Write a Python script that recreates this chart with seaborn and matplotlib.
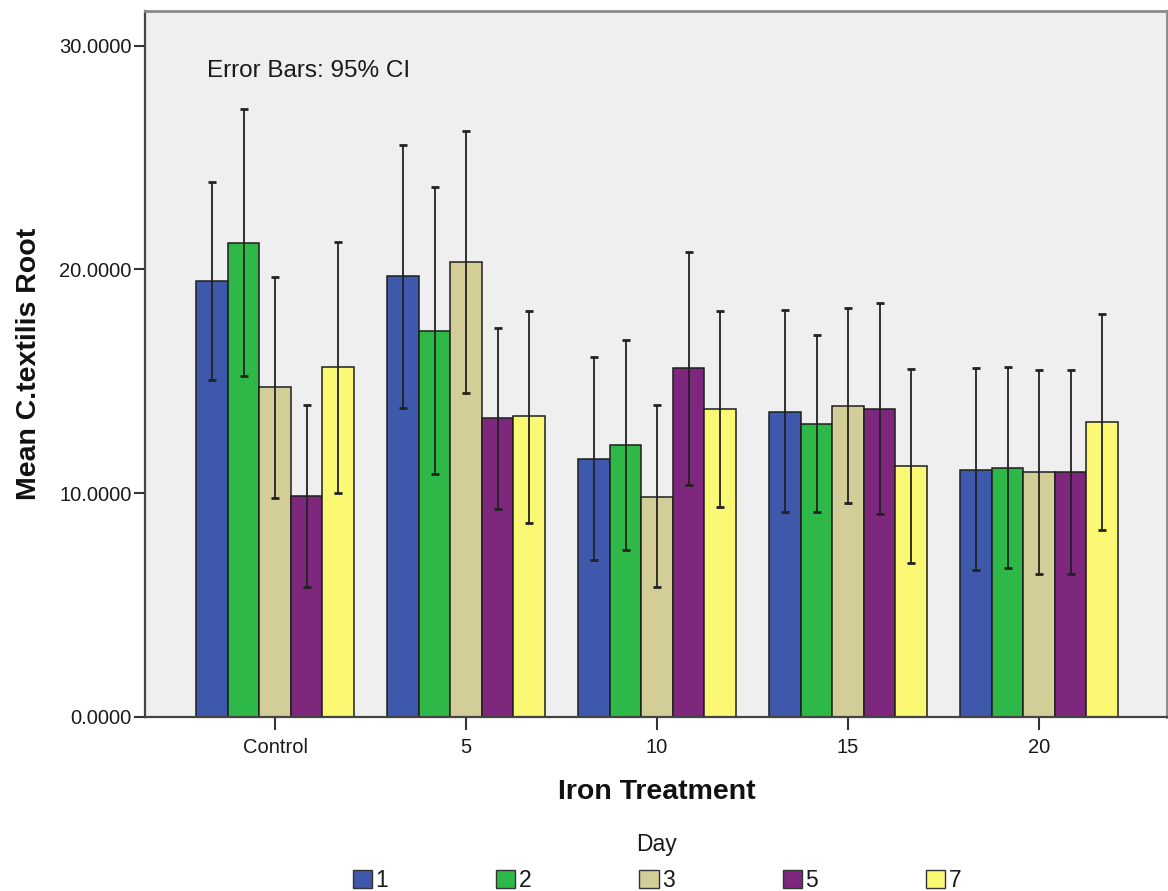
import numpy as np
import pandas as pd
import matplotlib
matplotlib.use("Agg")
import matplotlib.pyplot as plt
from matplotlib.patches import Patch
from matplotlib.container import BarContainer
import seaborn as sns

# Iron treatment levels (x categories) and sampling days (hue)
treatments = ["Control", "5", "10", "15", "20"]
days = ["1", "2", "3", "5", "7"]

# Mean C.textilis root per day, one value per treatment level
mean_root = [
    [19.48, 19.70, 11.54, 13.63, 11.06],   # day 1
    [21.19, 17.26, 12.15, 13.09, 11.13],   # day 2
    [14.73, 20.35, 9.85, 13.90, 10.94],    # day 3
    [9.89, 13.36, 15.58, 13.78, 10.94],    # day 5
    [15.64, 13.44, 13.76, 11.21, 13.18],   # day 7
]
# 95% confidence interval bounds
ci_low = [
    [15.07, 13.81, 7.00, 9.14, 6.57],
    [15.26, 10.86, 7.45, 9.14, 6.66],
    [9.77, 14.47, 5.81, 9.55, 6.40],
    [5.80, 9.31, 10.36, 9.06, 6.40],
    [10.03, 8.69, 9.40, 6.88, 8.37],
]
ci_high = [
    [23.92, 25.58, 16.09, 18.17, 15.60],
    [27.15, 23.69, 16.84, 17.05, 15.64],
    [19.66, 26.20, 13.95, 18.26, 15.51],
    [13.95, 17.37, 20.76, 18.51, 15.51],
    [21.22, 18.16, 18.14, 15.57, 18.03],
]
y_ticks = [0, 10, 20, 30]

colors = ["#3E58AC", "#2EB848", "#D3CE97", "#7D287D", "#FBF873"]

rows = []
for di, d in enumerate(days):
    for ti, t in enumerate(treatments):
        rows.append({"treatment": t, "day": d, "mean": mean_root[di][ti]})
df = pd.DataFrame(rows)

sns.set_theme(style="white")
plt.rcParams["font.family"] = ["Liberation Sans", "DejaVu Sans"]

fig = plt.figure(figsize=(11.68, 8.91), dpi=100)
ax = fig.add_axes([145 / 1168, 1 - 717 / 891, 1022 / 1168, 706 / 891])
ax.set_facecolor("#EFEFEF")

sns.barplot(data=df, x="treatment", y="mean", hue="day",
            order=treatments, hue_order=days, palette=colors,
            width=0.825, gap=0, errorbar=None, saturation=1,
            edgecolor="#1e1e1e", linewidth=1.1, legend=False, ax=ax)

# 95% CI whiskers on every bar
bar_groups = [c for c in ax.containers if isinstance(c, BarContainer)]
for di, cont in enumerate(bar_groups):
    for ti, bar in enumerate(cont.patches):
        xc = bar.get_x() + bar.get_width() / 2
        m = mean_root[di][ti]
        ax.errorbar(xc, m, yerr=[[m - ci_low[di][ti]], [ci_high[di][ti] - m]],
                    fmt="none", ecolor="#222222", elinewidth=1.3,
                    capsize=2.6, capthick=2.0, zorder=5)

ax.set_xlim(-0.681, 4.670)
ax.set_ylim(0, 31.55)
ax.set_yticks(y_ticks)
ax.set_yticklabels([f"{v:.4f}" for v in y_ticks])

ax.tick_params(axis="y", direction="out", length=8, width=1.5, pad=1.5,
               labelsize=14.5, color="#333333", labelcolor="#1a1a1a", left=True)
ax.tick_params(axis="x", direction="out", length=9, width=1.5, pad=5.8,
               labelsize=14.5, color="#333333", labelcolor="#1a1a1a", bottom=True)

for side in ["left", "bottom"]:
    ax.spines[side].set_color("#444444")
    ax.spines[side].set_linewidth(1.6)
for side in ["top", "right"]:
    ax.spines[side].set_color("#8a8a8a")
    ax.spines[side].set_linewidth(2.0)

ax.set_xlabel("Iron Treatment", fontsize=20.5, fontweight="bold", color="#111111")
ax.set_ylabel("Mean C.textilis Root", fontsize=20.5, fontweight="bold", color="#111111")
ax.xaxis.set_label_coords(0.501, -0.0875)
ax.yaxis.set_label_coords(-0.1008, 0.5)

ax.text(0.0607, 0.907, "Error Bars: 95% CI", transform=ax.transAxes,
        fontsize=17.5, color="#1a1a1a", ha="left", va="baseline")

handles = [Patch(facecolor=c, edgecolor="#333333", linewidth=1.0) for c in colors]
leg = fig.legend(handles, days, title="Day", ncol=5, loc="center",
                 bbox_to_anchor=(657 / 1168, 1 - 862.5 / 891),
                 frameon=False, fontsize=16.5, title_fontsize=16.5,
                 handlelength=0.85, handleheight=0.85, handletextpad=0.15,
                 columnspacing=4.7, borderpad=0.1)
leg._legend_box.sep = 9.7
for t in leg.get_texts():
    t.set_color("#1a1a1a")
leg.get_title().set_color("#1a1a1a")

fig.savefig("out.png", dpi=100, facecolor="white")
